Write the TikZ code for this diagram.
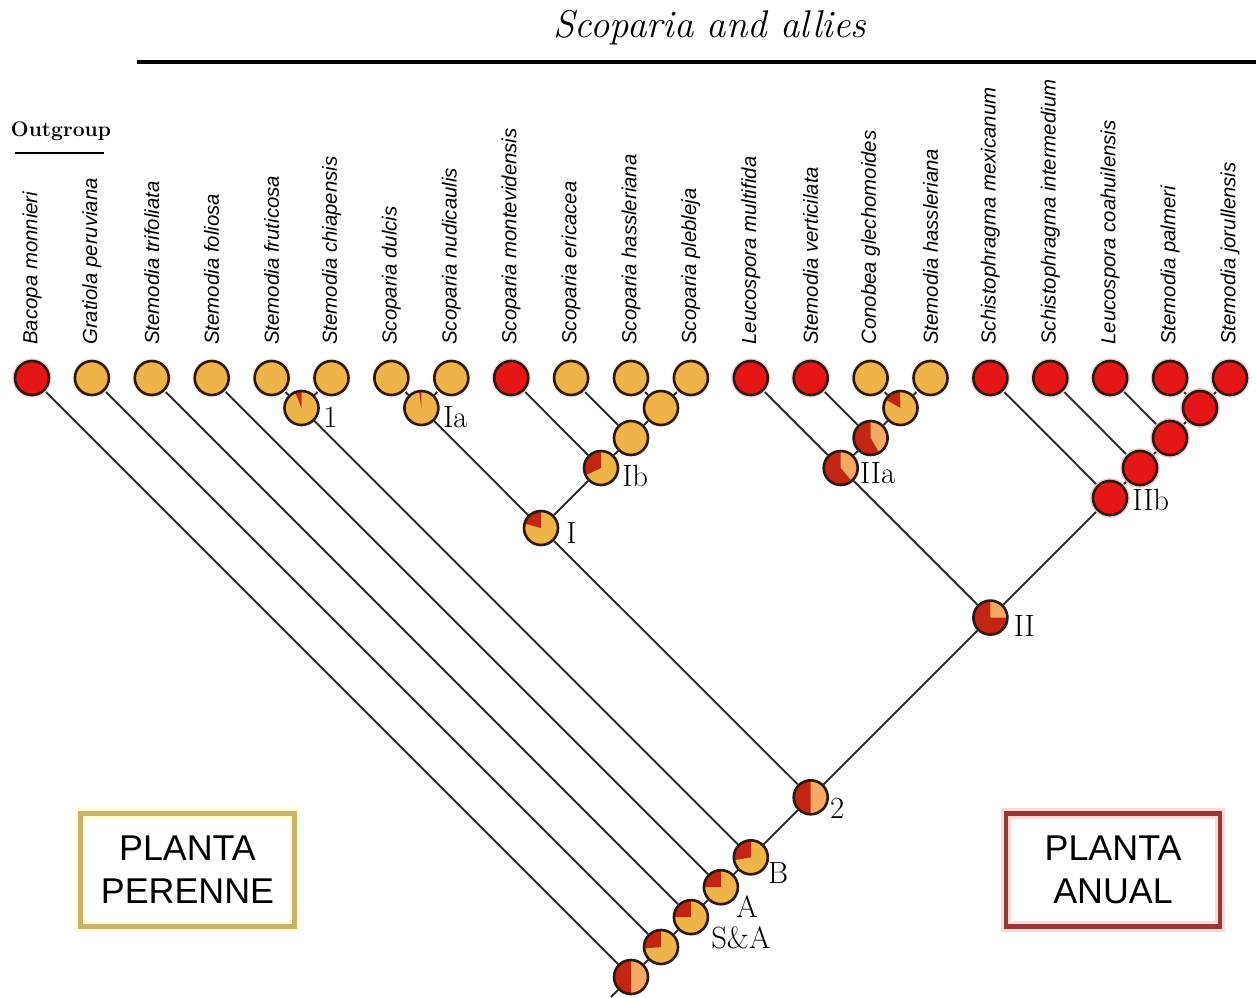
\documentclass[tikz,border=0pt]{standalone}
\usepackage{fontspec}
\newfontfamily\taxfont{Liberation Sans}
\usetikzlibrary{calc, backgrounds}

\definecolor{tanfill}{RGB}{238,180,74}
\definecolor{leafred}{RGB}{228,22,22}
\definecolor{sectred}{RGB}{194,38,18}
\definecolor{peach}{RGB}{245,170,100}
\definecolor{rim}{RGB}{45,25,15}
\definecolor{branch}{RGB}{45,45,45}
\definecolor{perennebox}{RGB}{200,178,112}
\definecolor{anualbox}{RGB}{150,56,56}

\begin{document}
\begin{tikzpicture}[
    x=0.02cm, y=-0.02cm,
    taxon/.style={rotate=90, anchor=west, inner sep=0pt, font=\taxfont\itshape\fontsize{11.6}{12}\selectfont},
    state/.style={circle, draw=rim, line width=1.5pt, minimum size=0.68cm, inner sep=0pt},
    annual/.style={state, fill=leafred, preaction={draw=leafred!25, line width=3.2pt}},
    pie/.style n args={3}{state, fill=#3, path picture={
        \fill[sectred] (path picture bounding box.center) -- ++(#1:0.5cm)
            arc[start angle=#1, end angle=#2, radius=0.5cm] -- cycle;}},
    clade/.style={anchor=west, inner sep=0pt, font=\fontsize{17.5}{17.5}\selectfont},
    branchline/.style={draw=branch, line width=1.1pt},
    habit/.style={line width=2.6pt, minimum width=4.28cm, minimum height=2.26cm, align=center, font=\taxfont\fontsize{20.4}{24.4}\selectfont},
    ]
    \useasboundingbox (0,0) rectangle (1256,997);

    % Title and bars
    \node[font=\itshape\fontsize{22}{22}\selectfont] (title) at (710,28) {Scoparia and allies};
    \coordinate (barL) at (137,62);
    \coordinate (barR) at (1256,62);
    \draw[line width=2.3pt] (barL) -- (barR);
    \node[font=\bfseries\fontsize{12}{12}\selectfont] (outgroup) at (61,131) {Outgroup};
    \coordinate (ogL) at (15,153);
    \coordinate (ogR) at (104,153);
    \draw[line width=1.7pt] (ogL) -- (ogR);

    % Leaves
    \foreach \i/\name/\fillc/\taxname in {
        1/bacopa/leafred/Bacopa monnieri,
        2/gratiola/tanfill/Gratiola peruviana,
        3/trifoliata/tanfill/Stemodia trifoliata,
        4/foliosa/tanfill/Stemodia foliosa,
        5/fruticosa/tanfill/Stemodia fruticosa,
        6/chiapensis/tanfill/Stemodia chiapensis,
        7/dulcis/tanfill/Scoparia dulcis,
        8/nudicaulis/tanfill/Scoparia nudicaulis,
        9/montevidensis/leafred/Scoparia montevidensis,
        10/ericacea/tanfill/Scoparia ericacea,
        11/hassleriana/tanfill/Scoparia hassleriana,
        12/plebleja/tanfill/Scoparia plebleja,
        13/multifida/leafred/Leucospora multifida,
        14/verticilata/leafred/Stemodia verticilata,
        15/conobea/tanfill/Conobea glechomoides,
        16/shassleriana/tanfill/Stemodia hassleriana,
        17/mexicanum/leafred/Schistophragma mexicanum,
        18/intermedium/leafred/Schistophragma intermedium,
        19/coahuilensis/leafred/Leucospora coahuilensis,
        20/palmeri/leafred/Stemodia palmeri,
        21/jorullensis/leafred/Stemodia jorullensis} {
        \node[state, fill=\fillc, preaction={draw=\fillc!18, line width=3.2pt}] (\name) at ({32+59.9*(\i-1)},378) {};
        \node[taxon] (\name-lab) at ({32+59.9*(\i-1)},345) {\taxname};
    }

    % Clade I
    \node[pie={90}{112}{tanfill}] (n1) at (301.5,408) {};
    \node[pie={90}{98}{tanfill}] (nIa) at (421.4,408) {};
    \node[state, fill=tanfill] (sc1) at (661,408) {};
    \node[state, fill=tanfill] (sc2) at (631,438) {};
    \node[pie={90}{205}{tanfill}] (nIb) at (601,468) {};
    \node[pie={90}{165}{tanfill}] (nI) at (541,528) {};

    % Clade II
    \node[pie={92}{150}{tanfill}] (cg1) at (900.5,408) {};
    \node[pie={90}{300}{peach}] (cg2) at (870.6,438) {};
    \node[pie={90}{310}{peach}] (nIIa) at (840.7,468) {};
    \node[annual] (sj1) at (1200,408) {};
    \node[annual] (sj2) at (1170,438) {};
    \node[annual] (sj3) at (1140,468) {};
    \node[annual] (nIIb) at (1110,498) {};
    \node[pie={90}{360}{peach}] (nII) at (990.4,617.6) {};

    % Backbone
    \node[pie={90}{270}{peach}] (n2) at (810.7,797.3) {};
    \node[pie={90}{190}{tanfill}] (nB) at (750.8,857.3) {};
    \node[pie={90}{180}{tanfill}] (nA) at (720.9,887.2) {};
    \node[pie={90}{180}{tanfill}] (nSA) at (690.9,917.1) {};
    \node[pie={90}{185}{tanfill}] (n0) at (661,947) {};
    \node[pie={90}{270}{peach}] (root) at (631,977) {};
    \coordinate (stem) at (611,997);

    % Node labels
    \node[clade] (lab1) at ($(n1)+(21.5,9)$) {\oldstylenums{1}};
    \node[clade] (labIa) at ($(nIa)+(21.6,9)$) {Ia};
    \node[clade] (labIb) at ($(nIb)+(21,8)$) {Ib};
    \node[clade] (labI) at ($(nI)+(25,5)$) {I};
    \node[clade] (labIIa) at ($(nIIa)+(19,5)$) {IIa};
    \node[clade] (labIIb) at ($(nIIb)+(22,2)$) {IIb};
    \node[clade] (labII) at ($(nII)+(23,8.4)$) {II};
    \node[clade] (lab2) at ($(n2)+(19,11)$) {\oldstylenums{2}};
    \node[clade] (labB) at ($(nB)+(17,16)$) {B};
    \node[clade] (labA) at ($(nA)+(15,19)$) {A};
    \node[clade] (labSA) at ($(nSA)+(20,21)$) {S\&A};

    % Branches
    \begin{scope}[on background layer]
        \foreach \a/\b in {fruticosa/n1, chiapensis/n1, dulcis/nIa, nudicaulis/nIa,
            hassleriana/sc1, plebleja/sc1, ericacea/sc2, sc1/sc2, montevidensis/nIb, sc2/nIb,
            nIa/nI, nIb/nI, conobea/cg1, shassleriana/cg1, verticilata/cg2, cg1/cg2,
            multifida/nIIa, cg2/nIIa, palmeri/sj1, jorullensis/sj1, coahuilensis/sj2, sj1/sj2,
            intermedium/sj3, sj2/sj3, mexicanum/nIIb, sj3/nIIb, nIIa/nII, nIIb/nII,
            nI/n2, nII/n2, n1/nB, n2/nB, foliosa/nA, nB/nA, trifoliata/nSA, nA/nSA,
            gratiola/n0, nSA/n0, bacopa/root, n0/root, root/stem} {
            \draw[branchline] (\a) -- (\b);
        }
    \end{scope}

    % Life form boxes
    \node[habit, draw=perennebox, preaction={draw=yellow!18, line width=6pt}] (perenne) at (187.5,870) {PLANTA\\PERENNE};
    \node[habit, draw=anualbox, preaction={draw=red!15, line width=6pt}] (anual) at (1113,870) {PLANTA\\ANUAL};
\end{tikzpicture}
\end{document}
